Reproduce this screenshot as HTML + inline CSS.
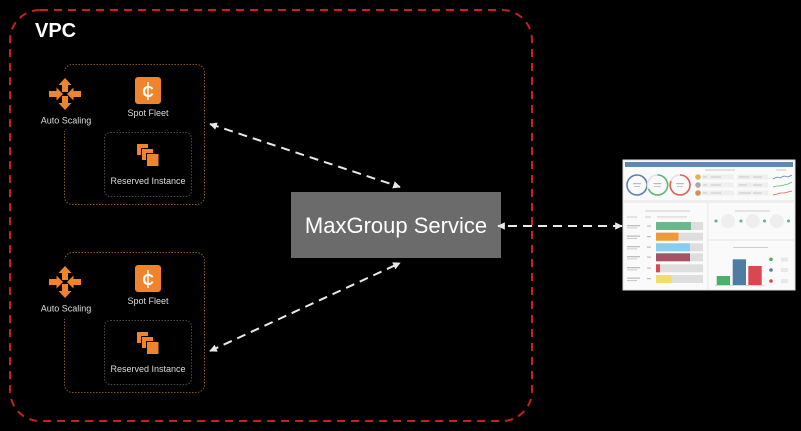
<!DOCTYPE html>
<html><head><meta charset="utf-8"><style>
html,body{margin:0;padding:0;background:#000;}
svg{display:block;}
text{font-family:"Liberation Sans",Arial,sans-serif;}
</style></head><body>
<svg width="801" height="431" viewBox="0 0 801 431" xmlns="http://www.w3.org/2000/svg">
<defs>
<marker id="ah" viewBox="0 0 10 10" refX="9" refY="5" markerWidth="3.8" markerHeight="3.8" orient="auto-start-reverse" markerUnits="strokeWidth">
<path d="M0,0 L10,5 L0,10 z" fill="#e8e8e8"/>
</marker>
<g id="grp">
  <rect x="64.5" y="64.5" width="140" height="140" rx="8" fill="none" stroke="#8a5a1c" stroke-width="1" stroke-dasharray="1.5 1.5"/>
  <rect x="104.5" y="132.5" width="87" height="64" rx="6" fill="none" stroke="#4a4a4a" stroke-width="1" stroke-dasharray="1.5 1.5"/>
  <rect x="42" y="71" width="48" height="60" fill="#000"/>
  <!-- auto scaling icon -->
  <g fill="#f0842c">
    <path d="M65,78 L71.5,85 L68,85 L68,92 L62,92 L62,85 L58.5,85 z"/>
    <path d="M65,110 L71.5,103 L68,103 L68,96 L62,96 L62,103 L58.5,103 z"/>
    <path d="M63,94 L56.5,87.5 L56.5,91 L49,91 L49,97 L56.5,97 L56.5,100.5 z"/>
    <path d="M67,94 L73.5,87.5 L73.5,91 L81,91 L81,97 L73.5,97 L73.5,100.5 z"/>
  </g>
  <text x="66" y="123.5" font-size="9" fill="#dcdcdc" text-anchor="middle">Auto Scaling</text>
  <!-- spot fleet -->
  <rect x="135" y="77" width="26" height="27" rx="3" fill="#f0842c"/>
  <text x="148" y="97" font-size="16" font-weight="bold" fill="#fff" text-anchor="middle">C</text>
  <line x1="148" y1="82" x2="148" y2="100" stroke="#fff" stroke-width="1.5"/>
  <text x="148" y="116" font-size="9" fill="#dcdcdc" text-anchor="middle">Spot Fleet</text>
  <!-- reserved instance -->
  <rect x="136.5" y="143.5" width="12" height="12" fill="#f0842c" stroke="#000" stroke-width="1"/>
  <rect x="141.5" y="148.5" width="12" height="12" fill="#f0842c" stroke="#000" stroke-width="1"/>
  <rect x="146.5" y="153.5" width="12.5" height="13" fill="#f0842c" stroke="#000" stroke-width="1"/>
  <text x="148" y="184" font-size="9" fill="#dcdcdc" text-anchor="middle">Reserved Instance</text>
</g>
</defs>

<rect width="801" height="431" fill="#000"/>

<use href="#grp"/>
<use href="#grp" transform="translate(0,188)"/>

<!-- MaxGroup -->
<rect x="291" y="192" width="210" height="66" fill="#6b6b6b"/>
<text x="396" y="233" font-size="22" fill="#fff" text-anchor="middle">MaxGroup Service</text>

<!-- arrows -->
<g stroke="#e8e8e8" stroke-width="2" stroke-dasharray="9 6" fill="none">
  <line x1="210" y1="124" x2="400" y2="187" marker-start="url(#ah)" marker-end="url(#ah)"/>
  <line x1="210" y1="351" x2="400" y2="263" marker-start="url(#ah)" marker-end="url(#ah)"/>
  <line x1="622" y1="226" x2="498" y2="226" marker-start="url(#ah)" marker-end="url(#ah)"/>
</g>

<!-- VPC border -->
<rect x="10" y="10" width="522" height="411" rx="30" fill="none" stroke="#c8201a" stroke-width="2" stroke-dasharray="8 6"/>
<text x="35" y="37" font-size="20" font-weight="bold" fill="#fff">VPC</text>

<!-- Dashboard -->
<g>
  <rect x="623" y="160" width="172" height="130" fill="#fafafa" stroke="#ddd" stroke-width="1"/>
  <rect x="625" y="162" width="168" height="5" fill="#5e88b0"/>
  <!-- donuts -->
  <g fill="none" stroke-width="1.6">
    <circle cx="637" cy="185" r="10" stroke="#5b83a8"/>
    <circle cx="657.5" cy="185" r="10" stroke="#e2e2e2"/>
    <path d="M657.5,175 A10,10 0 1 1 648.5,189" stroke="#5cb87a"/>
    <circle cx="680" cy="185" r="10" stroke="#e2e2e2"/>
    <path d="M680,175 A10,10 0 0 1 680,195 A10,10 0 0 1 671,181" stroke="#e06060"/>
  </g>
  <g fill="#bbb">
    <rect x="633" y="183" width="8" height="1.2"/><rect x="634" y="186" width="6" height="0.8"/>
    <rect x="653.5" y="183" width="8" height="1.2"/><rect x="654" y="186" width="7" height="0.8"/>
    <rect x="676" y="183" width="8" height="1.2"/><rect x="677" y="186" width="6" height="0.8"/>
  </g>
  <!-- icon rows -->
  <circle cx="698" cy="177" r="2.8" fill="#e2b34e"/>
  <circle cx="698" cy="185" r="2.8" fill="#aaa"/>
  <circle cx="698" cy="193" r="2.8" fill="#d39252"/>
  <g fill="#efefef">
    <rect x="702" y="174.5" width="32" height="5"/><rect x="702" y="182.5" width="32" height="5"/><rect x="702" y="190.5" width="32" height="5"/>
    <rect x="737" y="174.5" width="31" height="5"/><rect x="737" y="182.5" width="31" height="5"/><rect x="737" y="190.5" width="31" height="5"/>
  </g>
  <g fill="#c8c8c8">
    <rect x="703" y="176.5" width="4" height="1"/><rect x="711" y="176.5" width="10" height="1"/>
    <rect x="703" y="184.5" width="4" height="1"/><rect x="711" y="184.5" width="10" height="1"/>
    <rect x="703" y="192.5" width="4" height="1"/><rect x="711" y="192.5" width="10" height="1"/>
    <rect x="739" y="176.5" width="10" height="1"/><rect x="753" y="176.5" width="9" height="1"/>
    <rect x="739" y="184.5" width="8" height="1"/><rect x="753" y="184.5" width="9" height="1"/>
    <rect x="739" y="192.5" width="12" height="1"/><rect x="753" y="192.5" width="9" height="1"/>
    <rect x="705" y="169.5" width="30" height="1"/><rect x="776" y="169.5" width="10" height="1"/>
  </g>
  <g fill="none" stroke-width="0.8">
    <polyline points="773,179 777,177 780,178 784,176 788,177 792,175" stroke="#5b83a8"/>
    <polyline points="773,187 777,186 780,186 784,185 788,184 792,182" stroke="#5cb87a"/>
    <polyline points="773,195 777,194 780,193 784,193 788,192 792,191" stroke="#e06060"/>
  </g>
  <!-- dividers -->
  <rect x="624" y="200" width="170" height="3" fill="#eeeeee"/>
  <rect x="707" y="203" width="1.5" height="87" fill="#eeeeee"/>
  <rect x="708" y="239" width="86" height="2" fill="#eeeeee"/>
  <!-- left panel -->
  <g fill="#cfcfcf">
    <rect x="645" y="210.5" width="45" height="1"/>
    <rect x="627" y="216.5" width="10" height="1"/><rect x="645" y="216.5" width="6" height="1"/><rect x="657" y="216.5" width="30" height="1"/>
  </g>
  <g fill="#bdbdbd">
    <rect x="627" y="225" width="13" height="1.3"/><rect x="627" y="227.5" width="10" height="0.8"/><rect x="647" y="225.5" width="4" height="1.2"/>
    <rect x="627" y="235.5" width="13" height="1.3"/><rect x="627" y="238" width="10" height="0.8"/><rect x="647" y="236" width="4" height="1.2"/>
    <rect x="627" y="246" width="13" height="1.3"/><rect x="627" y="248.5" width="10" height="0.8"/><rect x="647" y="246.5" width="4" height="1.2"/>
    <rect x="627" y="256" width="13" height="1.3"/><rect x="627" y="258.5" width="10" height="0.8"/><rect x="647" y="256.5" width="4" height="1.2"/>
    <rect x="627" y="267" width="13" height="1.3"/><rect x="627" y="269.5" width="10" height="0.8"/><rect x="647" y="267.5" width="4" height="1.2"/>
    <rect x="627" y="277.5" width="13" height="1.3"/><rect x="627" y="280" width="10" height="0.8"/><rect x="647" y="278" width="4" height="1.2"/>
  </g>
  <g fill="#dedede">
    <rect x="656" y="222" width="47" height="8"/><rect x="656" y="232.7" width="47" height="8"/>
    <rect x="656" y="243.3" width="47" height="8"/><rect x="656" y="253.3" width="47" height="8"/>
    <rect x="656" y="264.3" width="47" height="8"/><rect x="656" y="275" width="47" height="8"/>
  </g>
  <rect x="656" y="222" width="35" height="8" fill="#6db58a"/>
  <rect x="656" y="232.7" width="22.5" height="8" fill="#ef9a3a"/>
  <rect x="656" y="243.3" width="34" height="8" fill="#8ccaf0"/>
  <rect x="656" y="253.3" width="34" height="8" fill="#a65368"/>
  <rect x="656" y="264.3" width="4" height="8" fill="#d94a4a"/>
  <rect x="656" y="275" width="15.5" height="8" fill="#f4dc6a"/>
  <!-- right upper panel -->
  <rect x="735" y="210.5" width="35" height="1" fill="#cfcfcf"/>
  <g fill="#eeeeee">
    <circle cx="728" cy="221" r="7"/><circle cx="753" cy="221" r="7"/><circle cx="777" cy="221" r="7"/>
  </g>
  <g fill="#5cb87a">
    <circle cx="716" cy="221" r="1.5"/><circle cx="741" cy="221" r="1.5"/><circle cx="764.5" cy="221" r="1.5"/><circle cx="788.5" cy="221" r="1.5"/>
  </g>
  <!-- right lower panel -->
  <rect x="733" y="247" width="35" height="1" fill="#cfcfcf"/>
  <rect x="716.7" y="276" width="13.3" height="9" fill="#4caf6a"/>
  <rect x="732.7" y="259.3" width="13.3" height="25.7" fill="#4f7ca3"/>
  <rect x="748.3" y="266" width="13.4" height="19" fill="#d9474f"/>
  <rect x="715" y="285" width="49" height="0.8" fill="#cfcfcf"/>
  <circle cx="771" cy="259.3" r="1.8" fill="#4caf6a"/>
  <circle cx="771" cy="270" r="1.8" fill="#4f7ca3"/>
  <circle cx="771" cy="281" r="1.8" fill="#d9474f"/>
  <g fill="#e8e8e8">
    <rect x="781" y="257.5" width="7" height="4"/><rect x="781" y="268" width="7" height="4"/><rect x="781" y="279" width="7" height="4"/>
  </g>
</g>
</svg>
</body></html>
